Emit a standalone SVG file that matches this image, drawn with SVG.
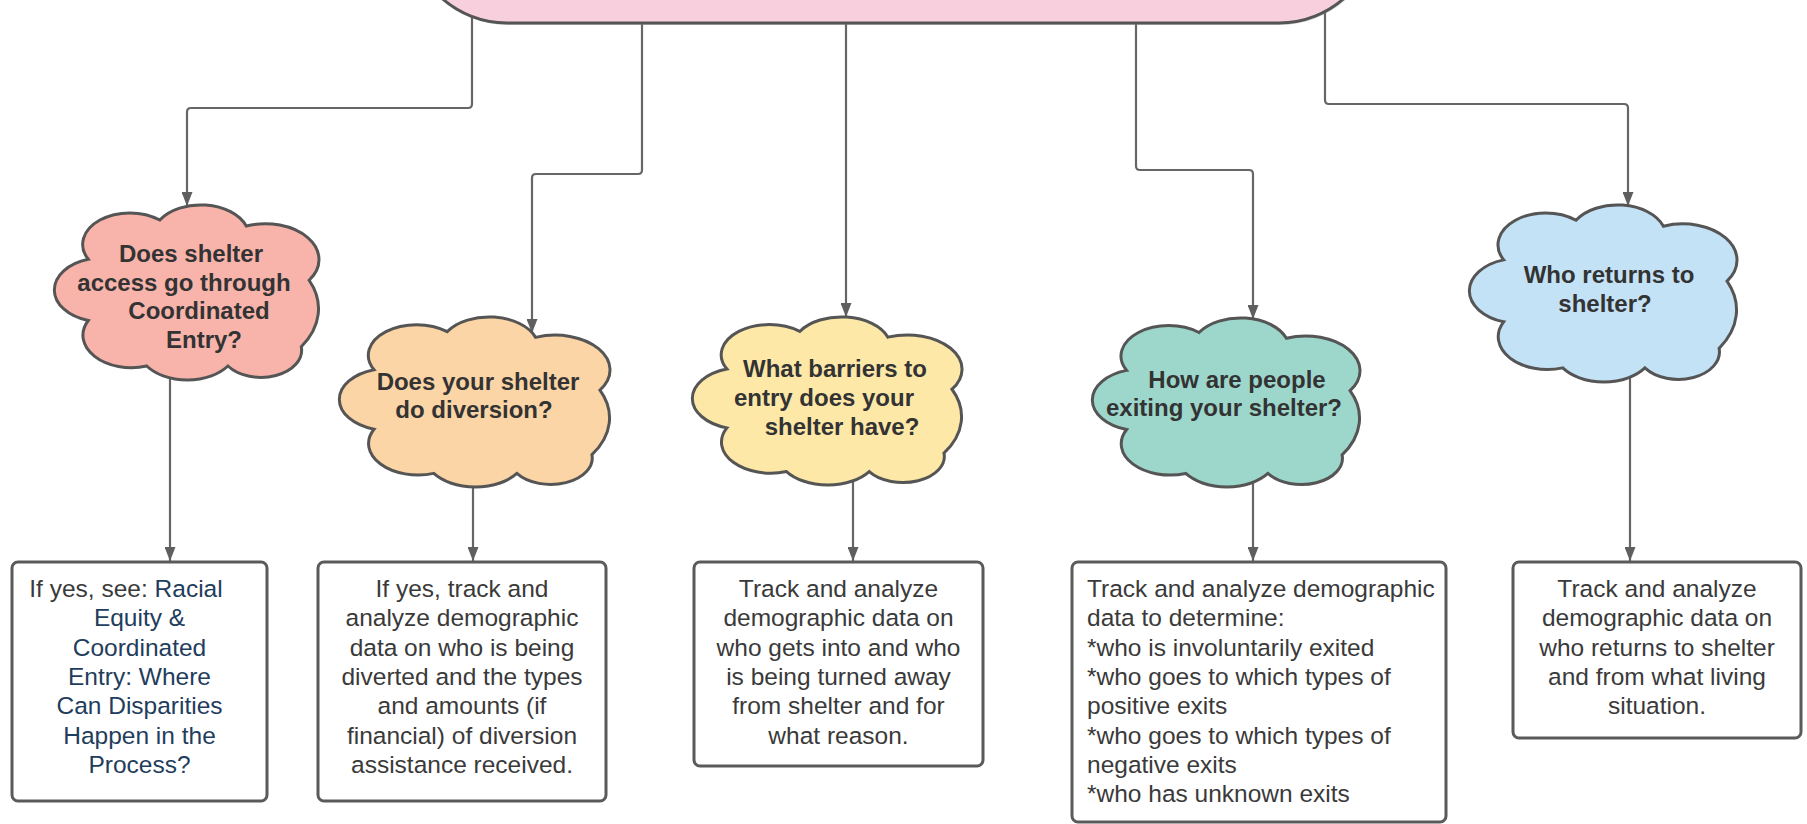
<svg xmlns="http://www.w3.org/2000/svg" width="1807" height="824" viewBox="0 0 1807 824">
<style>
.bg{fill:#ffffff}
.conn{fill:none;stroke:#666666;stroke-width:2.2;marker-end:url(#arr)}
.cloud{stroke:#555555;stroke-width:3;vector-effect:non-scaling-stroke}
.box{fill:#ffffff;stroke:#5a5a5a;stroke-width:3}
.ct{font-family:"Liberation Sans",Arial,sans-serif;font-weight:bold;font-size:24px;fill:#333333;text-anchor:middle}
.bt{font-family:"Liberation Sans",Arial,sans-serif;font-size:24.5px;fill:#3a3a3a;text-anchor:middle}
.bl{font-family:"Liberation Sans",Arial,sans-serif;font-size:24.5px;fill:#3a3a3a;text-anchor:start}
.link{fill:#1f3d5c}
</style>
<defs>
<marker id="arr" markerUnits="userSpaceOnUse" markerWidth="14" markerHeight="11" refX="14" refY="5.5" orient="auto">
<path d="M0,0 L14,5.5 L0,11 Z" fill="#5f5f5f"/>
</marker>
</defs>
<rect class="bg" x="0" y="0" width="1807" height="824"/>

<g id="connectors">
<path class="conn" d="M472,14 V104 Q472,108 468,108 H191 Q187,108 187,112 V206"/>
<path class="conn" d="M642,20 V170 Q642,174 638,174 H536 Q532,174 532,178 V333"/>
<path class="conn" d="M846,20 V317"/>
<path class="conn" d="M1136,20 V166 Q1136,170 1140,170 H1249 Q1253,170 1253,174 V319"/>
<path class="conn" d="M1325,12 V100 Q1325,104 1329,104 H1624 Q1628,104 1628,108 V206"/>
<path class="conn" d="M170,370 V561"/>
<path class="conn" d="M473,480 V561"/>
<path class="conn" d="M853,475 V561"/>
<path class="conn" d="M1253,475 V561"/>
<path class="conn" d="M1630,370 V561"/>
</g>

<g id="top">
<rect x="410" y="-198" width="968" height="223" rx="98" ry="98" fill="#999999" opacity="0.45"/>
<rect x="409" y="-200" width="968" height="223" rx="98" ry="98" fill="#f8d0dd" stroke="#555555" stroke-width="3"/>
</g>

<g id="cloud1">
<path class="cloud" fill="#f8b4ab" transform="translate(55,205) scale(2.62,1.75)" d="M12.7,31 A18,18 0 0 1 40,8.6 A18.5,18.5 0 0 1 73,12 A20.5,20.5 0 0 1 97,43 A39,39 0 0 1 94,81 A15.5,15.5 0 0 1 66,92 A19,19 0 0 1 35,92 A18.5,18.5 0 0 1 12.7,66 A18.3,18.3 0 0 1 12.7,31 Z"/>
<text class="ct" x="191" y="262">Does shelter</text>
<text class="ct" x="184" y="291">access go through</text>
<text class="ct" x="199" y="319">Coordinated</text>
<text class="ct" x="204" y="348">Entry?</text>
</g>

<g id="cloud2">
<path class="cloud" fill="#fcd5a6" transform="translate(340,317) scale(2.68,1.70)" d="M12.7,31 A18,18 0 0 1 40,8.6 A18.5,18.5 0 0 1 73,12 A20.5,20.5 0 0 1 97,43 A39,39 0 0 1 94,81 A15.5,15.5 0 0 1 66,92 A19,19 0 0 1 35,92 A18.5,18.5 0 0 1 12.7,66 A18.3,18.3 0 0 1 12.7,31 Z"/>
<text class="ct" x="478" y="390">Does your shelter</text>
<text class="ct" x="474" y="418">do diversion?</text>
</g>

<g id="cloud3">
<path class="cloud" fill="#fde8a8" transform="translate(693,317) scale(2.67,1.68)" d="M12.7,31 A18,18 0 0 1 40,8.6 A18.5,18.5 0 0 1 73,12 A20.5,20.5 0 0 1 97,43 A39,39 0 0 1 94,81 A15.5,15.5 0 0 1 66,92 A19,19 0 0 1 35,92 A18.5,18.5 0 0 1 12.7,66 A18.3,18.3 0 0 1 12.7,31 Z"/>
<text class="ct" x="835" y="377">What barriers to</text>
<text class="ct" x="824" y="406">entry does your</text>
<text class="ct" x="842" y="435">shelter have?</text>
</g>

<g id="cloud4">
<path class="cloud" fill="#9dd7cc" transform="translate(1093,318) scale(2.65,1.69)" d="M12.7,31 A18,18 0 0 1 40,8.6 A18.5,18.5 0 0 1 73,12 A20.5,20.5 0 0 1 97,43 A39,39 0 0 1 94,81 A15.5,15.5 0 0 1 66,92 A19,19 0 0 1 35,92 A18.5,18.5 0 0 1 12.7,66 A18.3,18.3 0 0 1 12.7,31 Z"/>
<text class="ct" x="1237" y="388">How are people</text>
<text class="ct" x="1224" y="416">exiting your shelter?</text>
</g>

<g id="cloud5">
<path class="cloud" fill="#c3e2f6" transform="translate(1470,205) scale(2.65,1.77)" d="M12.7,31 A18,18 0 0 1 40,8.6 A18.5,18.5 0 0 1 73,12 A20.5,20.5 0 0 1 97,43 A39,39 0 0 1 94,81 A15.5,15.5 0 0 1 66,92 A19,19 0 0 1 35,92 A18.5,18.5 0 0 1 12.7,66 A18.3,18.3 0 0 1 12.7,31 Z"/>
<text class="ct" x="1609" y="283">Who returns to</text>
<text class="ct" x="1605" y="312">shelter?</text>
</g>

<g id="box1">
<rect class="box" x="12" y="562" width="255" height="239" rx="6"/>
<text class="bt" x="126" y="597">If yes, see: <tspan class="link">Racial</tspan></text>
<text class="bt link" x="139.5" y="626.3">Equity &amp;</text>
<text class="bt link" x="139.5" y="655.6">Coordinated</text>
<text class="bt link" x="139.5" y="684.9">Entry: Where</text>
<text class="bt link" x="139.5" y="714.2">Can Disparities</text>
<text class="bt link" x="139.5" y="743.5">Happen in the</text>
<text class="bt link" x="139.5" y="772.8">Process?</text>
</g>

<g id="box2">
<rect class="box" x="318" y="562" width="288" height="239" rx="6"/>
<text class="bt" x="462" y="597">If yes, track and</text>
<text class="bt" x="462" y="626.3">analyze demographic</text>
<text class="bt" x="462" y="655.6">data on who is being</text>
<text class="bt" x="462" y="684.9">diverted and the types</text>
<text class="bt" x="462" y="714.2">and amounts (if</text>
<text class="bt" x="462" y="743.5">financial) of diversion</text>
<text class="bt" x="462" y="772.8">assistance received.</text>
</g>

<g id="box3">
<rect class="box" x="694" y="562" width="289" height="204" rx="6"/>
<text class="bt" x="838.5" y="597">Track and analyze</text>
<text class="bt" x="838.5" y="626.3">demographic data on</text>
<text class="bt" x="838.5" y="655.6">who gets into and who</text>
<text class="bt" x="838.5" y="684.9">is being turned away</text>
<text class="bt" x="838.5" y="714.2">from shelter and for</text>
<text class="bt" x="838.5" y="743.5">what reason.</text>
</g>

<g id="box4">
<rect class="box" x="1072" y="562" width="374" height="260" rx="6"/>
<text class="bl" x="1087" y="597">Track and analyze demographic</text>
<text class="bl" x="1087" y="626.3">data to determine:</text>
<text class="bl" x="1087" y="655.6">*who is involuntarily exited</text>
<text class="bl" x="1087" y="684.9">*who goes to which types of</text>
<text class="bl" x="1087" y="714.2">positive exits</text>
<text class="bl" x="1087" y="743.5">*who goes to which types of</text>
<text class="bl" x="1087" y="772.8">negative exits</text>
<text class="bl" x="1087" y="802.1">*who has unknown exits</text>
</g>

<g id="box5">
<rect class="box" x="1513" y="562" width="288" height="176" rx="6"/>
<text class="bt" x="1657" y="597">Track and analyze</text>
<text class="bt" x="1657" y="626.3">demographic data on</text>
<text class="bt" x="1657" y="655.6">who returns to shelter</text>
<text class="bt" x="1657" y="684.9">and from what living</text>
<text class="bt" x="1657" y="714.2">situation.</text>
</g>
</svg>
